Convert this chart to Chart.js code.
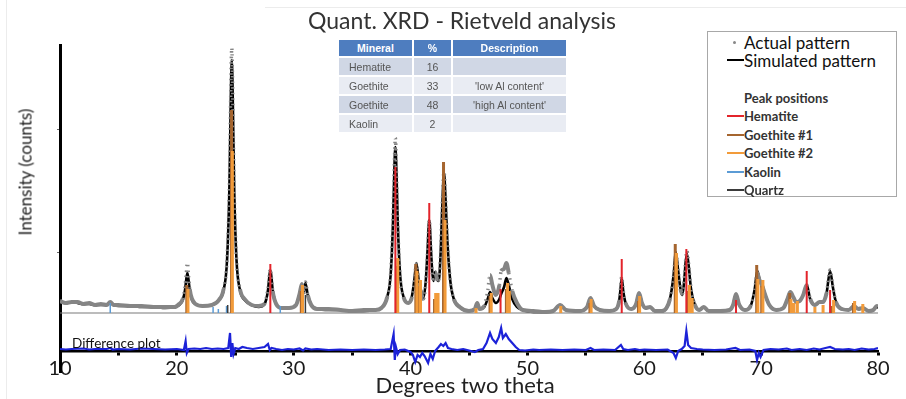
<!DOCTYPE html>
<html>
<head>
<meta charset="utf-8">
<script src="https://cdn.jsdelivr.net/npm/chart.js@4.4.1/dist/chart.umd.min.js"></script>
<style>
  html, body { margin: 0; padding: 0; background: #fff; }
  #wrap { position: relative; width: 906px; height: 399px; overflow: hidden; background: #fff; }
  #c { position: absolute; left: 0; top: 0; }
  .t { position: absolute; white-space: nowrap; line-height: 1; }
  #title { left: 462px; top: 20px; transform: translate(-50%, -50%); font: 23px Lato, sans-serif; color: #333; }
  #ytitle { left: 25px; top: 172px; transform: translate(-50%, -50%) rotate(-90deg); font: 17px Lato, sans-serif; color: #222; }
  #xtitle { left: 465px; top: 384px; transform: translate(-50%, -50%); font: 22px Lato, sans-serif; color: #222; }
  #difflabel { left: 72px; top: 343px; transform: translateY(-50%); font: 13.5px Lato, sans-serif; color: #111; }
  #tbl { position: absolute; left: 338px; top: 39px; }
  .cell { position: absolute; box-sizing: border-box; font: 10.5px "Liberation Sans", Arial, sans-serif; color: #555; display: flex; align-items: center; }
  #legend { position: absolute; left: 707px; top: 31px; width: 190px; height: 166px; border: 1px solid #a8a8a8; background: #fff; box-sizing: border-box; }
  .lg { position: absolute; white-space: nowrap; line-height: 1; transform: translateY(-50%); }
  .sw { position: absolute; height: 2px; }
  #edgeL { position: absolute; left: 6px; top: 0; width: 1px; height: 399px; background: #ececec; }
  #edgeT { position: absolute; left: 265px; top: 7px; width: 641px; height: 1px; background: #ececec; }
</style>
</head>
<body>
<div id="wrap">
  <div id="edgeL"></div><div id="edgeT"></div>
  <canvas id="c" width="906" height="399"></canvas>
  <div id="title" class="t">Quant. XRD - Rietveld analysis</div>
  <div id="ytitle" class="t">Intensity (counts)</div>
  <div id="xtitle" class="t">Degrees two theta</div>
  <div id="difflabel" class="t">Difference plot</div>
  <div id="tbl"></div>
  <div id="legend"></div>
</div>
<script>
// ---------------- DATA ----------------
// x: degrees two theta, y: intensity (arbitrary counts, x10 scale)
const simulatedPattern = [
[10,49],[10.5,48],[11,49],[11.5,48],[12,47],[12.5,47],[13,46],[13.5,46],[14,46],[14.3,48],[14.6,46],[15,45],[16,45],[17,44],[18,44],[19,43],[19.8,44],
[20.2,46],[20.5,51],[20.7,61],[20.8,71],[20.9,78],[21,71],[21.1,61],[21.3,51],[21.6,47],[22.2,45],[23,46],[23.6,51],[24,61],[24.3,92],[24.5,166],[24.6,241],[24.7,291],
[24.8,241],[24.9,166],[25.1,92],[25.4,61],[25.8,51],[26.4,46],[27,44],[27.5,47],[27.8,61],[27.9,73],[28,81],[28.1,73],[28.2,61],[28.5,47],[29,43],[29.6,43],
[30.2,46],[30.5,57],[30.7,66],[30.85,58],[31,68],[31.2,56],[31.5,46],[32,42],[33,41],[34,41],[35,40],[36,40],[37,41],[37.5,43],[38,54],[38.3,77],[38.5,130],
[38.6,176],[38.7,204],[38.8,176],[38.9,130],[39.1,77],[39.4,54],[39.8,48],[40.1,54],[40.3,69],[40.5,88],[40.7,70],[40.9,60],[41.1,53],[41.3,70],[41.45,100],
[41.6,131],[41.75,100],[41.85,80],[41.95,70],[42.1,79],[42.25,72],[42.4,70],[42.55,92],[42.7,140],[42.86,178],[43,150],[43.15,110],[43.4,70],[43.7,52],[44.2,44],
[45,40],[45.5,42],[45.7,48],[45.9,42],[46.3,44],[46.6,52],[46.8,59],[47,53],[47.3,48],[47.6,52],[47.75,57],[48,64],[48.2,73],[48.4,66],[48.7,52],[49.1,44],[49.6,41],
[50.5,39],[51.5,39],[52.2,40],[52.8,46],[53.3,41],[54.5,40],[55.1,44],[55.4,52],[55.7,45],[56.2,41],[57,40],[57.6,42],[57.85,50],[57.95,60],[58.07,73],[58.2,60],
[58.4,48],[58.9,42],[59.3,47],[59.55,58],[59.8,48],[60.1,43],[60.5,44],[60.9,40],[61.5,40],[61.9,43],[62.2,52],[62.5,75],[62.7,99],[62.9,80],[63.1,62],[63.25,56],
[63.4,68],[63.55,90],[63.65,97],[63.8,85],[64,62],[64.3,47],[64.7,41],[65.1,44],[65.5,40],[66.5,40],[67.3,41],[67.6,46],[67.85,57],[68.1,47],[68.6,41],[69.1,45],
[69.45,62],[69.67,80],[69.85,72],[70.1,66],[70.35,56],[70.7,46],[71.3,41],[71.9,43],[72.25,52],[72.5,59],[72.75,54],[73,49],[73.3,50],[73.6,56],[73.9,66],[74.2,52],
[74.6,46],[75,49],[75.3,49],[75.6,58],[75.9,80],[76.15,63],[76.4,49],[76.9,42],[77.5,41],[77.95,45],[78.3,42],[78.7,43],[79.2,40],[79.6,41],[79.9,44],[80,43]
];
const actualPattern = [
[10,50],[10.5,48],[11,49],[11.5,49],[12,47],[12.5,48],[13,46],[13.5,47],[14,46],[14.3,49],[14.6,46],[15,46],[16,45],[17,45],[18,44],[19,44],[19.8,44],
[20.2,47],[20.5,52],[20.7,64],[20.8,76],[20.9,88],[21,75],[21.1,62],[21.3,52],[21.6,47],[22.2,45],[23,46],[23.6,51],[24,62],[24.3,93],[24.5,168],[24.6,250],[24.7,303],
[24.8,243],[24.9,165],[25.1,93],[25.4,62],[25.8,52],[26.4,46],[27,45],[27.5,47],[27.8,63],[27.9,74],[28,82],[28.1,72],[28.2,60],[28.5,47],[29,43],[29.6,43],
[30.2,46],[30.5,57],[30.7,67],[30.85,58],[31,69],[31.2,56],[31.5,46],[32,42],[33,42],[34,41],[35,40],[36,41],[37,41],[37.5,43],[38,54],[38.3,78],[38.5,134],
[38.6,182],[38.7,213],[38.8,176],[38.9,128],[39.1,76],[39.4,54],[39.8,48],[40.1,53],[40.3,67],[40.5,87],[40.7,68],[40.9,58],[41.1,52],[41.3,68],[41.45,98],
[41.6,131],[41.75,98],[41.85,79],[41.95,69],[42.1,79],[42.25,73],[42.4,71],[42.55,93],[42.7,142],[42.86,179],[43,152],[43.15,111],[43.4,70],[43.7,52],[44.2,44],
[45,40],[45.5,42],[45.7,48],[45.9,42],[46.3,45],[46.6,60],[46.8,76],[47,66],[47.3,56],[47.6,66],[47.75,80],[48,82],[48.2,88],[48.4,78],[48.7,60],[49.1,48],[49.6,41],
[50.5,40],[51.5,39],[52.2,40],[52.8,46],[53.3,41],[54.5,40],[55.1,44],[55.4,53],[55.7,45],[56.2,41],[57,40],[57.6,42],[57.85,50],[57.95,61],[58.07,74],[58.2,60],
[58.4,48],[58.9,42],[59.3,47],[59.55,58],[59.8,48],[60.1,43],[60.5,44],[60.9,40],[61.5,40],[61.9,43],[62.2,52],[62.5,74],[62.7,97],[62.9,80],[63.1,62],[63.25,57],
[63.4,69],[63.55,92],[63.65,100],[63.8,86],[64,62],[64.3,47],[64.7,41],[65.1,44],[65.5,40],[66.5,40],[67.3,41],[67.6,46],[67.85,57],[68.1,47],[68.6,41],[69.1,45],
[69.45,61],[69.67,78],[69.85,71],[70.1,65],[70.35,56],[70.7,46],[71.3,41],[71.9,43],[72.25,52],[72.5,59],[72.75,54],[73,49],[73.3,50],[73.6,56],[73.9,66],[74.2,52],
[74.6,46],[75,49],[75.3,49],[75.6,58],[75.9,81],[76.15,63],[76.4,49],[76.9,42],[77.5,41],[77.95,45],[78.3,42],[78.7,43],[79.2,40],[79.6,41],[79.9,45],[80,44]
];
const differenceCurve = [
[10,2],[10.5,1.5],[11,2],[12,2.5],[12.5,1.5],[13,2],[14,2],[14.3,3],[14.5,1.5],[15,2],[16,1.5],[17,2.5],[18,2],[19,1.5],[20,2],[20.6,1],[20.75,10],[20.85,-2],[21,2],
[21.5,2.5],[22,2],[22.5,3],[23,2],[23.5,2.5],[24,2],[24.4,3],[24.55,18],[24.65,-6],[24.75,8],[24.85,-3],[25,3],[25.3,2],[25.6,4],[26,3],[26.5,2],[27,3],[27.5,4],
[27.8,7],[27.95,1],[28.1,3],[28.5,2],[29,1],[29.5,2],[30,1.5],[30.5,2.5],[30.8,0.5],[31,2.5],[31.5,1.5],[32,2],[33,1],[34,1.5],[35,1],[36,1.5],[37,1],[37.8,1.5],
[38.3,2],[38.55,17],[38.65,-9],[38.75,4],[38.9,-3],[39.1,1],[39.5,1.5],[40,-1],[40.2,-4],[40.4,-11],[40.6,-4],[40.8,-6],[41,-2],[41.2,-5],[41.5,-12],[41.7,-3],
[41.9,-8],[42.1,0],[42.4,4],[42.6,7],[42.8,5],[43,8],[43.2,3],[43.5,2],[44,1],[44.5,2],[45,0.5],[45.5,-1],[45.8,1],[46.2,2],[46.5,8],[46.8,18],[47,12],[47.3,8],
[47.55,14],[47.75,23],[47.9,13],[48.15,17],[48.4,12],[48.7,8],[49,4],[49.3,1],[49.8,0.5],[50.5,1.5],[51,1],[52,1.5],[53,1],[54,1.5],[55,1],[55.4,3],[55.7,1],
[56.5,1.5],[57.5,1],[58,6],[58.2,2],[58.6,1],[59.2,2],[59.6,1],[60,1.5],[61,1],[62,1.5],[62.5,-2],[62.7,-7],[62.9,0],[63.2,2],[63.45,5],[63.6,20],[63.75,6],[64,3],
[64.5,2],[65,1.5],[66,1],[67,1.5],[67.8,3],[68.2,1],[69,1.5],[69.5,0],[69.65,-9],[69.8,-2],[69.95,-6],[70.2,1],[70.8,2],[71.5,1.5],[72.2,2.5],[72.6,1],[73.3,2],
[73.9,1],[74.5,2.5],[75,1.5],[75.5,3],[75.9,4],[76.3,2],[77,1.5],[77.5,2],[78,1],[78.6,2.5],[79.2,1.5],[79.7,2],[80,3]
];
// peak-position sticks: [two theta, top of stick]
const stickBase = 38;
const hematitePeaks   = [[28.0,87],[38.7,184],[41.6,148],[47.7,62],[58.07,92],[63.6,102],[67.85,51],[73.9,80],[75.9,61]];
const goethite1Peaks  = [[20.85,66],[24.68,241],[30.65,60],[38.8,85],[40.45,87],[40.75,65],[42.05,52],[42.82,189],[46.8,55],[48.2,62],[55.35,48],[59.5,50],[62.65,107],[63.75,60],[69.62,86],[70.05,65],[72.45,58],[76.1,45],[77.9,48]];
const goethite2Peaks  = [[20.95,62],[24.75,200],[30.75,66],[38.9,93],[40.55,80],[40.85,71],[42.15,58],[42.35,58],[42.95,131],[45.6,43],[46.9,58],[48.3,68],[48.45,60],[52.85,45],[55.45,52],[59.6,55],[62.75,98],[63.85,66],[64.1,53],[69.72,72],[70.15,71],[72.55,52],[72.8,48],[73.1,50],[74.6,44],[75.3,46],[76.2,51],[78.0,50],[78.7,47]];
const kaolinPeaks     = [[14.3,48],[23.1,44],[23.55,42],[24.25,45],[28.85,45]];
const quartzPeaks     = [[24.35,46],[31.0,56]];

const xTickValues = [10,15,20,25,30,35,40,45,50,55,60,65,70,75,80];
const xTickLabels = [10,20,30,40,50,60,70,80];
const yTickMarks  = [99,222];

const tableMinerals     = ['Hematite','Goethite','Goethite','Kaolin'];
const tablePercents     = ['16','33','48','2'];
const tableDescriptions = ['', "'low Al content'", "'high Al content'", ''];
const tableHeader       = ['Mineral','%','Description'];

const colors = {
  hematite: '#e3242b', goethite1: '#a5652f', goethite2: '#f29b3a', kaolin: '#5b9bd5', quartz: '#3b3b3b',
  actual: '#858585', simulated: '#000000', diff: '#1c22d8', base: '#7a7a7a'
};

// ---------------- helpers ----------------
const toXY = arr => arr.map(([x, y]) => ({ x, y }));
const sticks = arr => {
  const out = [];
  arr.forEach(([x, h]) => { out.push({ x, y: stickBase }, { x, y: h }, { x, y: null }); });
  return out;
};
const steep = ctx => Math.abs(ctx.p1.y - ctx.p0.y) > 2.5 * Math.abs(ctx.p1.x - ctx.p0.x) + 5;

const stickDs = (label, arr, color, width, order) => ({
  label, data: sticks(arr), borderColor: color, borderWidth: width, pointRadius: 0,
  spanGaps: false, tension: 0, order, borderCapStyle: 'butt'
});

// ---------------- chart ----------------
Chart.defaults.font.family = 'Lato';
new Chart(document.getElementById('c'), {
  type: 'line',
  data: {
    datasets: [
      stickDs('Hematite', hematitePeaks, colors.hematite, 2, 1),
      stickDs('Goethite #2', goethite2Peaks, colors.goethite2, 3, 2),
      stickDs('Goethite #1', goethite1Peaks, colors.goethite1, 3, 3),
      stickDs('Quartz', quartzPeaks, colors.quartz, 1.5, 4),
      stickDs('Kaolin', kaolinPeaks, colors.kaolin, 1.5, 5),
      {
        label: 'Actual pattern', data: toXY(actualPattern), borderColor: colors.actual, borderWidth: 4,
        pointRadius: 0, cubicInterpolationMode: 'monotone', order: 6,
        segment: {
          borderDash: ctx => steep(ctx) ? [1.5, 4] : undefined,
          borderWidth: ctx => steep(ctx) ? 3.5 : undefined
        }
      },
      {
        label: 'Simulated pattern', data: toXY(simulatedPattern), borderColor: colors.simulated, borderWidth: 2.6,
        pointRadius: 0, cubicInterpolationMode: 'monotone', order: 7
      },
      {
        label: 'Difference plot', data: toXY(differenceCurve), borderColor: colors.diff, borderWidth: 2.2,
        pointRadius: 0, tension: 0, order: 8
      },
      {
        label: 'Stick baseline', data: [{ x: 10, y: stickBase }, { x: 80, y: stickBase }], borderColor: colors.base,
        borderWidth: 1.2, pointRadius: 0, order: 9
      }
    ]
  },
  options: {
    responsive: false, animation: false, devicePixelRatio: 1, events: [],
    layout: { padding: { left: 0, right: 28, top: 45, bottom: 27 } },
    plugins: { legend: { display: false }, title: { display: false }, tooltip: { enabled: false } },
    scales: {
      x: {
        type: 'linear', min: 10, max: 80, position: { y: 0 },
        afterBuildTicks: s => { s.ticks = xTickValues.map(v => ({ value: v })); },
        ticks: {
          autoSkip: false, maxRotation: 0, padding: 3, color: '#1a1a1a',
          font: { family: 'Lato', size: 20 },
          callback: v => xTickLabels.includes(v) ? String(v) : ''
        },
        grid: { drawOnChartArea: false, drawTicks: true, tickLength: 3, tickWidth: 3, tickColor: '#000' },
        border: { display: true, color: '#000', width: 2.5 }
      },
      y: {
        type: 'linear', min: -21, max: 306,
        afterFit: s => { s.width = 60; },
        afterBuildTicks: s => { s.ticks = yTickMarks.map(v => ({ value: v })); },
        ticks: { display: false },
        grid: { drawOnChartArea: false, drawTicks: true, tickLength: 3, tickWidth: 1, tickColor: '#666' },
        border: { display: true, color: '#000', width: 3 }
      }
    }
  }
});

// ---------------- table ----------------
(function () {
  const tbl = document.getElementById('tbl');
  const colX = [0, 75, 114], colW = [75, 39, 115];
  const rowY = [0, 18, 37, 56, 75], rowH = [18, 19, 19, 19, 19];
  const rows = [tableHeader].concat(tableMinerals.map((m, i) => [m, tablePercents[i], tableDescriptions[i]]));
  rows.forEach((r, ri) => {
    r.forEach((txt, ci) => {
      const d = document.createElement('div');
      d.className = 'cell';
      d.textContent = txt;
      d.style.left = (colX[ci] + 1) + 'px';
      d.style.top = (rowY[ri] + 1) + 'px';
      d.style.width = (colW[ci] - 2) + 'px';
      d.style.height = (rowH[ri] - 2) + 'px';
      if (ri === 0) {
        d.style.background = '#4e7dbf'; d.style.color = '#fff'; d.style.fontWeight = 'bold';
        d.style.justifyContent = 'center';
      } else {
        d.style.background = (ri % 2 === 1) ? '#d0d7e5' : '#e9ecf3';
        d.style.justifyContent = ci === 0 ? 'flex-start' : 'center';
        if (ci === 0) d.style.paddingLeft = '10px';
      }
      tbl.appendChild(d);
    });
  });
})();

// ---------------- legend ----------------
(function () {
  const lg = document.getElementById('legend');
  const ox = 707, oy = 31;
  const add = (html, cls, x, y, style) => {
    const d = document.createElement('div');
    d.className = cls; d.innerHTML = html;
    d.style.left = (x - ox) + 'px'; d.style.top = (y - oy) + 'px';
    Object.assign(d.style, style || {});
    lg.appendChild(d); return d;
  };
  const swatch = (y, color, h) => {
    const s = document.createElement('div');
    s.className = 'sw';
    s.style.left = (726 - ox) + 'px'; s.style.width = '17px';
    s.style.top = (y - oy - h / 2) + 'px'; s.style.height = h + 'px'; s.style.background = color;
    lg.appendChild(s);
  };
  const dot = document.createElement('div');
  dot.style.cssText = 'position:absolute;width:3px;height:3px;border-radius:50%;background:#888;';
  dot.style.left = (732 - ox) + 'px'; dot.style.top = (40 - oy) + 'px';
  lg.appendChild(dot);
  const big = { font: '17px Lato, sans-serif', color: '#111' };
  const small = { font: 'bold 13px Lato, sans-serif', color: '#333' };
  add('Actual pattern', 'lg', 743, 41, big);
  swatch(59, colors.simulated, 2.5);
  add('Simulated pattern', 'lg', 743, 59, big);
  add('Peak positions', 'lg', 743, 97, small);
  const entries = [
    ['Hematite', colors.hematite, 115],
    ['Goethite #1', colors.goethite1, 134],
    ['Goethite #2', colors.goethite2, 152],
    ['Kaolin', colors.kaolin, 171],
    ['Quartz', colors.quartz, 189]
  ];
  entries.forEach(([n, c, y]) => { swatch(y, c, 2); add(n, 'lg', 743, y, small); });
})();
</script>
</body>
</html>
